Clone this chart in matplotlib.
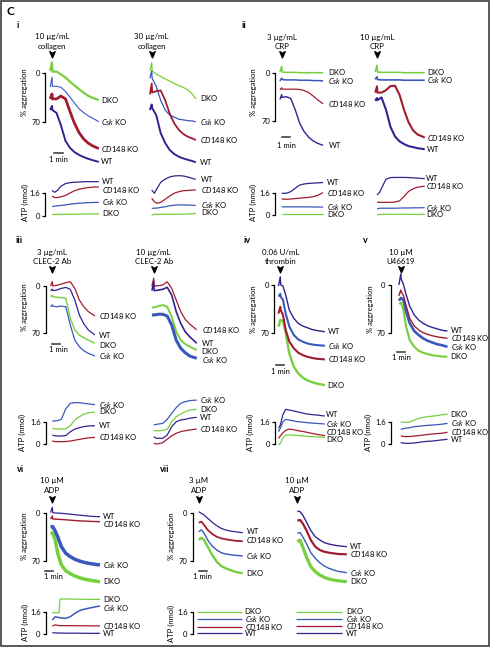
import matplotlib
matplotlib.use('Agg')
import matplotlib.pyplot as plt
from matplotlib.lines import Line2D
from matplotlib.patches import Rectangle
from matplotlib.path import Path

plt.rcParams['font.family'] = ['Lato', 'DejaVu Sans']
plt.rcParams['mathtext.fontset'] = 'custom'
plt.rcParams['mathtext.rm'] = 'Lato'
plt.rcParams['mathtext.it'] = 'Lato:italic'
plt.rcParams['mathtext.bf'] = 'Lato:bold'

# ---------------- DATA (time in min, aggregation in %, ATP in nmol) ----------------
# i: collagen 10 ug/mL
T_I10 = [-0.2, 0, 0.05, 0.5, 1, 1.5, 2, 2.5, 3, 3.5, 4, 4.5, 5.2]
I10_DKO = [-3, -15, -2, -2, 2, 6.5, 12.4, 17.8, 23, 28, 32.5, 35.5, 38.6]
I10_CSK = [20, 6, 19, 19, 20.5, 26.5, 34.5, 43, 51, 56.5, 61, 64.5, 69.5]
I10_CD148 = [37, 30, 37, 37, 33, 37, 55, 72, 85, 94, 100, 104, 108]
I10_WT = [53, 47, 53, 57, 75, 97, 107, 113, 117, 120, 122.5, 124.5, 127]
T_I10A = [0, 0.3, 0.6, 1, 1.5, 2, 2.5, 3, 3.5, 4, 4.5, 5.2]
I10A_WT = [1.8, 1.67, 1.8, 2.1, 2.28, 2.35, 2.38, 2.39, 2.41, 2.42, 2.42, 2.42]
I10A_CD148 = [1.4, 1.3, 1.3, 1.35, 1.45, 1.62, 1.78, 1.88, 1.95, 2.0, 2.03, 2.05]
I10A_CSK = [0.66, 0.7, 0.72, 0.74, 0.78, 0.83, 0.87, 0.9, 0.92, 0.94, 0.95, 0.96]
I10A_DKO = [0.1, 0.11, 0.11, 0.12, 0.12, 0.12, 0.13, 0.13, 0.14, 0.14, 0.15, 0.15]
# i: collagen 30 ug/mL
T_I30 = [-0.2, 0, 0.05, 0.5, 1, 1.5, 2, 2.5, 3, 3.5, 4, 4.5, 4.9]
I30_DKO = [-3, -15, -3, 1.5, 5, 8.5, 11.5, 15, 18, 20.5, 24, 30, 37]
I30_CSK = [7.6, -3, 7.6, 19, 39, 53, 60, 63, 66, 67, 68, 68.6, 69.5]
I30_CD148 = [30.5, 15, 28, 26, 25, 39, 58, 72, 81, 87, 91, 93.5, 95.7]
I30_WT = [53, 45, 50, 60, 86, 100, 110, 115.7, 119.5, 122, 124, 125.7, 127.6]
T_I30A = [0, 0.3, 0.6, 1, 1.5, 2, 2.5, 3, 3.5, 4, 4.5, 4.9]
I30A_WT = [1.83, 1.6, 1.95, 2.37, 2.6, 2.75, 2.82, 2.84, 2.82, 2.75, 2.65, 2.58]
I30A_CD148 = [1.25, 1.0, 0.9, 0.96, 1.18, 1.41, 1.6, 1.71, 1.78, 1.8, 1.83, 1.83]
I30A_CSK = [0.54, 0.55, 0.56, 0.6, 0.65, 0.72, 0.76, 0.78, 0.78, 0.77, 0.76, 0.74]
I30A_DKO = [0.07, 0.12, 0.12, 0.12, 0.12, 0.12, 0.12, 0.13, 0.13, 0.14, 0.16, 0.19]
# ii: CRP 3 ug/mL
T_II3 = [-0.2, 0, 0.05, 0.5, 1, 1.5, 2, 2.5, 3, 3.5, 4, 4.6]
II3_DKO = [-1, -9, -1, -0.5, -0.5, -0.5, 0, 0, 0, 0, 0, 0]
II3_CSK = [12, 8, 10, 10.5, 10.5, 10.5, 11, 11, 11, 11.5, 11.5, 12]
II3_CD148 = [25, 22, 24, 24, 24, 24, 24.5, 26, 29, 34, 39.5, 45.5]
II3_WT = [39, 32, 36, 35, 37.4, 54, 73.8, 86, 94, 99.5, 103, 106]
T_II3A = [0, 0.3, 0.6, 1, 1.5, 2, 2.5, 3, 3.5, 4, 4.6]
II3A_WT = [1.6, 1.6, 1.62, 1.72, 1.97, 2.21, 2.29, 2.33, 2.35, 2.37, 2.39]
II3A_CD148 = [1.2, 1.16, 1.16, 1.18, 1.21, 1.24, 1.27, 1.3, 1.35, 1.45, 1.65]
II3A_CSK = [0.61, 0.6, 0.6, 0.6, 0.6, 0.6, 0.6, 0.6, 0.59, 0.59, 0.58]
II3A_DKO = [0.05, 0.05, 0.05, 0.05, 0.05, 0.05, 0.05, 0.05, 0.05, 0.05, 0.05]
# ii: CRP 10 ug/mL
T_II10 = [-0.2, 0, 0.05, 0.5, 1, 1.5, 2, 2.5, 3, 3.5, 4, 4.5, 5.3]
II10_DKO = [-1, -11, -1, -0.5, -0.5, -0.5, -0.5, -0.5, 0, 0, 0, 0, 0]
II10_CSK = [9.7, 6, 10, 10.5, 10.5, 10.5, 10.5, 10.5, 11, 11, 11, 11, 11]
II10_CD148 = [29, 20, 29, 29, 25.5, 19.5, 19, 32, 54, 72, 84, 90, 94.5]
II10_WT = [41, 37, 40, 36, 54, 79, 93, 100, 104, 107, 108.5, 110, 111.5]
T_II10A = [0, 0.3, 0.6, 1, 1.5, 2, 2.5, 3, 3.5, 4, 4.5, 5.3]
II10A_WT = [1.48, 1.68, 2.1, 2.64, 2.76, 2.77, 2.77, 2.77, 2.76, 2.74, 2.72, 2.68]
II10A_CD148 = [0.94, 0.94, 0.93, 0.93, 0.94, 0.96, 1.04, 1.36, 1.73, 1.93, 2.05, 2.13]
II10A_CSK = [0.44, 0.5, 0.5, 0.5, 0.5, 0.5, 0.51, 0.52, 0.52, 0.53, 0.53, 0.54]
II10A_DKO = [0.0, 0.05, 0.05, 0.05, 0.05, 0.05, 0.05, 0.05, 0.05, 0.05, 0.05, 0.05]
# iii: CLEC-2 Ab 3 ug/mL
T_III3 = [-0.2, 0, 0.05, 0.5, 1, 1.5, 2, 2.5, 3, 3.5, 4, 4.74]
III3_CD148 = [0.4, -6, 0.4, -0.5, -2.5, -4.4, -5.9, 4, 21, 31, 38, 44.6]
III3_WT = [7.3, 5, 7.3, 6.3, 4, 2.5, 5.3, 21, 43, 56, 65, 72.5]
III3_DKO = [16, 14, 16, 17, 17.5, 18.6, 48, 65, 72.5, 76.4, 80, 84.7]
III3_CSK = [31, 28, 30, 31, 30, 31, 57.8, 80, 89.7, 95.6, 99.5, 103.4]
T_III3A = [0, 0.3, 0.6, 1, 1.5, 2, 2.5, 3, 3.5, 4, 4.74]
III3A_CSK = [1.7, 1.7, 1.72, 1.82, 2.6, 3.0, 3.05, 3.05, 3.0, 2.96, 2.9]
III3A_DKO = [1.16, 1.12, 1.11, 1.11, 1.12, 1.35, 1.77, 2.0, 2.2, 2.3, 2.36]
III3A_WT = [0.66, 0.6, 0.59, 0.59, 0.62, 0.9, 1.1, 1.2, 1.28, 1.33, 1.35]
III3A_CD148 = [0.22, 0.18, 0.17, 0.17, 0.18, 0.22, 0.28, 0.34, 0.4, 0.45, 0.49]
# iii: CLEC-2 Ab 10 ug/mL
T_III10 = [-0.2, 0, 0.05, 0.5, 1, 1.5, 2, 2.5, 3, 3.5, 4, 4.78]
III10_CD148 = [0.4, -11, 0.4, 0, -1, -5.9, 4, 21, 38, 49.5, 56.4, 65]
III10_WT = [7.3, -5, 7.3, 6.5, 5.3, 2.4, 13.7, 38, 55.4, 67.7, 75, 84.7]
III10_DKO = [32, 32, 32, 30, 28.5, 31, 45.6, 67.6, 80, 85.7, 89.7, 94.6]
III10_CSK = [43, 43, 43, 42, 42, 44.6, 57.8, 80, 92, 98.5, 103.4, 106.8]
T_III10A = [0, 0.3, 0.6, 1, 1.5, 2, 2.5, 3, 3.5, 4, 4.78]
III10A_CSK = [1.4, 1.45, 1.48, 1.52, 1.82, 2.26, 2.68, 3.0, 3.12, 3.2, 3.24]
III10A_DKO = [0.98, 0.98, 0.98, 1.0, 1.08, 1.64, 2.01, 2.21, 2.38, 2.5, 2.56]
III10A_WT = [0.54, 0.42, 0.42, 0.42, 0.66, 1.28, 1.64, 1.77, 1.82, 1.9, 1.97]
III10A_CD148 = [0.05, 0.0, 0.03, 0.1, 0.35, 0.61, 0.79, 0.91, 0.98, 1.03, 1.11]
# iv: thrombin 0.06 U/mL
T_IV = [-0.2, 0, 0.05, 0.3, 0.6, 1, 1.5, 2, 2.5, 3, 3.5, 4, 4.96]
IV_WT = [1.5, -12, 0, 1.5, 14.7, 36.8, 49, 56.4, 60.3, 62.7, 65.2, 66.7, 68.6]
IV_CSK = [17, 13, 17, 22, 42, 61, 73.5, 80, 83.3, 85.8, 87.3, 88.2, 89.2]
IV_CD148 = [42, 32, 37, 44, 66, 83, 93, 99.5, 103, 105.4, 107, 108.3, 109.3]
IV_DKO = [61, 51.5, 52, 52, 70.6, 100.5, 120, 130, 136, 140, 142.6, 144.6, 147]
T_IVA = [-0.2, 0, 0.3, 0.6, 1, 1.5, 2, 2.5, 3, 3.5, 4, 4.96]
IVA_WT = [1.16, 1.4, 2.2, 2.58, 2.53, 2.46, 2.38, 2.3, 2.23, 2.19, 2.16, 2.08]
IVA_CSK = [0.9, 1.16, 1.65, 1.83, 1.78, 1.71, 1.65, 1.62, 1.58, 1.55, 1.53, 1.48]
IVA_CD148 = [0.4, 0.58, 0.83, 1.0, 1.1, 1.05, 0.97, 0.92, 0.85, 0.78, 0.71, 0.6]
IVA_DKO = [-0.1, 0.03, 0.45, 0.65, 0.66, 0.64, 0.62, 0.58, 0.55, 0.53, 0.51, 0.48]
# v: U46619 10 uM
T_V = [-0.2, 0, 0.05, 0.3, 0.6, 1, 1.5, 2, 2.5, 3, 3.5, 4, 4.5, 5.2]
V_WT = [0, -16, -9, -1, 14, 31, 44, 51.5, 56.4, 59.8, 62.3, 64.2, 66.2, 67.6]
V_CD148 = [16, 7.4, 10, 15, 30, 49, 60, 66, 70, 72.5, 74.5, 76, 77, 78.4]
V_CSK = [23, 19.6, 19, 22, 39, 56, 67.6, 73.5, 78.4, 82, 84.3, 86.8, 88.2, 90.7]
V_DKO = [27, 27, 26, 36.8, 61, 81, 90.7, 96.6, 99.5, 101.5, 103, 104, 105, 105.4]
T_VA = [0, 0.5, 1, 1.5, 2, 2.5, 3, 3.5, 4, 4.5, 5.2]
VA_DKO = [1.65, 1.6, 1.62, 1.78, 1.91, 1.98, 2.03, 2.07, 2.11, 2.16, 2.23]
VA_CSK = [1.08, 1.16, 1.2, 1.28, 1.31, 1.35, 1.38, 1.4, 1.43, 1.46, 1.53]
VA_CD148 = [0.58, 0.53, 0.54, 0.57, 0.61, 0.65, 0.69, 0.73, 0.76, 0.78, 0.86]
VA_WT = [0.08, 0.03, 0.03, 0.05, 0.1, 0.15, 0.18, 0.2, 0.24, 0.28, 0.33]
# vi: ADP 10 uM
T_VI = [-0.2, 0, 0.05, 0.3, 0.6, 1, 1.5, 2, 2.5, 3, 3.5, 4, 4.5, 5.3]
VI_WT = [-1, -8.7, -1, -0.5, -0.3, 0, 0.6, 1.3, 2, 2.7, 3.3, 4, 4.5, 5]
VI_CD148 = [8.3, 4, 8.3, 8.5, 8.7, 9, 9.5, 10, 10.5, 11, 11.3, 11.6, 11.9, 12.2]
VI_CSK = [19.5, 19.5, 19.5, 25.3, 34, 48.6, 58.3, 63.2, 67, 69.5, 71.4, 72.9, 73.9, 75.4]
VI_DKO = [28, 29, 29, 38, 58, 75, 84, 88, 91.4, 93.8, 95.8, 97.2, 98.2, 99.7]
T_VIA = [0, 0.3, 0.75, 0.85, 1.0, 1.5, 2, 2.5, 3, 3.5, 4, 4.5, 5.3]
VIA_DKO = [1.55, 1.55, 1.55, 2.5, 2.53, 2.53, 2.53, 2.52, 2.52, 2.51, 2.5, 2.5, 2.5]
VIA_CSK = [1.02, 1.25, 1.2, 1.19, 1.18, 1.14, 1.26, 1.5, 1.69, 1.79, 1.86, 1.93, 2.03]
VIA_CD148 = [0.6, 0.67, 0.63, 0.62, 0.62, 0.62, 0.62, 0.62, 0.61, 0.61, 0.61, 0.6, 0.6]
VIA_WT = [0.12, 0.1, 0.09, 0.09, 0.09, 0.08, 0.08, 0.08, 0.08, 0.07, 0.07, 0.07, 0.07]
# vii: ADP 3 uM
T_VII3 = [0, 0.3, 0.6, 1, 1.5, 2, 2.5, 3, 3.5, 4, 4.5, 4.9]
VII3_WT = [-1.5, 1, 3.4, 8.2, 14, 18.9, 22.8, 25.2, 26.7, 27.7, 28.6, 29.1]
VII3_CD148 = [14.6, 13, 17.9, 25.2, 31, 35, 37.4, 38.8, 39.8, 40.8, 41.3, 41.7]
VII3_CSK = [27.7, 25, 30, 39.8, 48.5, 54.4, 58.3, 60.2, 61.2, 62.1, 62.6, 63.1]
VII3_DKO = [39.8, 36.5, 39.8, 49.6, 61.7, 71.4, 77.7, 81, 83.5, 86, 87.5, 88.3]
T_VII3A = [-0.2, 4.8]
VII3A_DKO = [1.6, 1.6]
VII3A_CSK = [1.09, 1.09]
VII3A_CD148 = [0.53, 0.53]
VII3A_WT = [0.05, 0.05]
# vii: ADP 10 uM
T_VII10 = [0, 0.3, 0.6, 1, 1.5, 2, 2.5, 3, 3.5, 4, 4.5, 5.5]
VII10_WT = [-2.5, -1.5, 3.4, 13.1, 26, 35, 39.8, 43.7, 45.6, 47.1, 48.1, 49.6]
VII10_CD148 = [11.7, 10.5, 15.5, 25.2, 39.8, 49.6, 54.4, 56.9, 58.3, 59.2, 60.2, 60.7]
VII10_CSK = [30, 29, 35, 44.6, 58.3, 66.5, 72.9, 77.7, 81, 83.5, 85.4, 87.5]
VII10_DKO = [42.3, 40, 49.6, 64.1, 78.7, 86, 90.8, 94.2, 96.6, 98.1, 99.1, 100.6]
T_VII10A = [-0.2, 5.0]
VII10A_DKO = [1.6, 1.6]
VII10A_CSK = [1.09, 1.09]
VII10A_CD148 = [0.58, 0.58]
VII10A_WT = [0.05, 0.05]

# ---------------- STYLE / LAYOUT ----------------
W, H = 491, 647
SX = 9.0  # px per minute
FS = 5.5
COLORS = {'DKO': '#76cf3c', 'CSK': '#3a58bb', 'CD148': '#a11c30', 'WT': '#33238f'}
NAMES = {'DKO': 'DKO', 'CSK': r'$\mathit{Csk}$ KO', 'CD148': r'$\mathit{CD148}$ KO', 'WT': 'WT'}
ORDER = ['DKO', 'CSK', 'CD148', 'WT']

fig = plt.figure(figsize=(W / 100, H / 100), dpi=100)


def fx(x):
    return x / W


def fy(y):
    return 1 - y / H


def make_axes(xa, y0, sy, kind):
    t0, t1 = -1.5, 7.0
    if kind == 'agg':
        v0, v1 = -40.0, 170.0
        top, bot = y0 + v0 * sy, y0 + v1 * sy
    else:
        v0, v1 = -0.6, 3.8
        top, bot = y0 - v1 * sy, y0 - v0 * sy
    ax = fig.add_axes([fx(xa + t0 * SX), fy(bot), (t1 - t0) * SX / W, (bot - top) / H])
    ax.set_xlim(t0, t1)
    ax.set_ylim((v1, v0) if kind == 'agg' else (v0, v1))
    ax.patch.set_visible(False)
    for s in ax.spines.values():
        s.set_visible(False)
    ax.set_xticks([])
    ax.set_yticks([])
    return ax


def add_yaxis(ax, t_spine, ticks, labels):
    sp = ax.spines['left']
    sp.set_visible(True)
    sp.set_position(('data', t_spine))
    sp.set_bounds(ticks[0], ticks[-1])
    sp.set_linewidth(0.9)
    ax.set_yticks(ticks)
    ax.set_yticklabels(labels, fontsize=FS)
    ax.tick_params(axis='y', length=2.5, width=0.9, pad=1.2, direction='out')


def draw(ax, t, series, lws, dt, offs):
    for key in ORDER:
        v = series[key]
        ax.plot(t, v, color=COLORS[key], lw=lws.get(key, 0.9), clip_on=False,
                solid_joinstyle='round', solid_capstyle='butt')
        ax.text(t[-1] + dt, v[-1] + offs.get(key, 0), NAMES[key], fontsize=FS,
                va='center', ha='left', clip_on=False)


PANELS = [
    # aggregation panels
    dict(kind='agg', xa=52, y0=73, sy=0.70, t=T_I10, spine=45, dt=0.25,
         s=dict(DKO=I10_DKO, CSK=I10_CSK, CD148=I10_CD148, WT=I10_WT),
         lw=dict(DKO=1.6, CSK=0.8, CD148=2.0, WT=1.4), off={}),
    dict(kind='agg', xa=151.7, y0=73, sy=0.70, t=T_I30, spine=None, dt=0.5,
         s=dict(DKO=I30_DKO, CSK=I30_CSK, CD148=I30_CD148, WT=I30_WT),
         lw=dict(DKO=0.9, CSK=0.9, CD148=1.3, WT=1.4), off={}),
    dict(kind='agg', xa=281.7, y0=72.7, sy=0.686, t=T_II3, spine=275, dt=0.6,
         s=dict(DKO=II3_DKO, CSK=II3_CSK, CD148=II3_CD148, WT=II3_WT),
         lw=dict(DKO=1.1, CSK=1.1, CD148=0.9, WT=1.0), off={}),
    dict(kind='agg', xa=377, y0=72.7, sy=0.686, t=T_II10, spine=None, dt=0.25,
         s=dict(DKO=II10_DKO, CSK=II10_CSK, CD148=II10_CD148, WT=II10_WT),
         lw=dict(DKO=1.1, CSK=1.2, CD148=1.5, WT=1.5), off={}),
    dict(kind='agg', xa=52.3, y0=285.7, sy=0.68, t=T_III3, spine=45.7, dt=0.45,
         s=dict(DKO=III3_DKO, CSK=III3_CSK, CD148=III3_CD148, WT=III3_WT),
         lw=dict(DKO=1.0, CSK=0.9, CD148=0.9, WT=0.9), off=dict(DKO=3.5)),
    dict(kind='agg', xa=153.7, y0=285.7, sy=0.68, t=T_III10, spine=None, dt=0.55,
         s=dict(DKO=III10_DKO, CSK=III10_CSK, CD148=III10_CD148, WT=III10_WT),
         lw=dict(DKO=1.4, CSK=2.2, CD148=0.9, WT=1.2), off=dict(DKO=2.5, CSK=2.5)),
    dict(kind='agg', xa=280.3, y0=285, sy=0.681, t=T_IV, spine=274.3, dt=0.3,
         s=dict(DKO=IV_DKO, CSK=IV_CSK, CD148=IV_CD148, WT=IV_WT),
         lw=dict(DKO=1.7, CSK=1.5, CD148=1.5, WT=1.0), off={}),
    dict(kind='agg', xa=400.7, y0=285, sy=0.681, t=T_V, spine=390.7, dt=0.35,
         s=dict(DKO=V_DKO, CSK=V_CSK, CD148=V_CD148, WT=V_WT),
         lw=dict(DKO=1.5, CSK=1.9, CD148=1.0, WT=1.0), off=dict(WT=-1.5)),
    dict(kind='agg', xa=52.3, y0=513.3, sy=0.686, t=T_VI, spine=45.7, dt=0.35,
         s=dict(DKO=VI_DKO, CSK=VI_CSK, CD148=VI_CD148, WT=VI_WT),
         lw=dict(DKO=2.5, CSK=2.5, CD148=1.0, WT=0.9), off=dict(CD148=3.4)),
    dict(kind='agg', xa=198.7, y0=512.7, sy=0.686, t=T_VII3, spine=192.7, dt=0.4,
         s=dict(DKO=VII3_DKO, CSK=VII3_CSK, CD148=VII3_CD148, WT=VII3_WT),
         lw=dict(DKO=1.7, CSK=1.0, CD148=1.3, WT=0.9), off=dict(CD148=-1.5, WT=-1.0)),
    dict(kind='agg', xa=297.3, y0=512.7, sy=0.686, t=T_VII10, spine=None, dt=0.35,
         s=dict(DKO=VII10_DKO, CSK=VII10_CSK, CD148=VII10_CD148, WT=VII10_WT),
         lw=dict(DKO=2.3, CSK=1.0, CD148=1.6, WT=1.0), off={}),
    # ATP panels
    dict(kind='atp', xa=52, y0=216, sy=14.2, t=T_I10A, spine=45, dt=0.35,
         s=dict(DKO=I10A_DKO, CSK=I10A_CSK, CD148=I10A_CD148, WT=I10A_WT),
         lw={}, off=dict(CD148=-0.21)),
    dict(kind='atp', xa=151.7, y0=216, sy=14.2, t=T_I30A, spine=None, dt=0.6,
         s=dict(DKO=I30A_DKO, CSK=I30A_CSK, CD148=I30A_CD148, WT=I30A_WT),
         lw={}, off=dict(DKO=0.05, CSK=0.05)),
    dict(kind='atp', xa=281.7, y0=215, sy=13.56, t=T_II3A, spine=275, dt=0.45,
         s=dict(DKO=II3A_DKO, CSK=II3A_CSK, CD148=II3A_CD148, WT=II3A_WT),
         lw={}, off={}),
    dict(kind='atp', xa=377, y0=215, sy=13.56, t=T_II10A, spine=None, dt=0.15,
         s=dict(DKO=II10A_DKO, CSK=II10A_CSK, CD148=II10A_CD148, WT=II10A_WT),
         lw={}, off={}),
    dict(kind='atp', xa=52.3, y0=444, sy=13.56, t=T_III3A, spine=45.7, dt=0.45,
         s=dict(DKO=III3A_DKO, CSK=III3A_CSK, CD148=III3A_CD148, WT=III3A_WT),
         lw={}, off={}),
    dict(kind='atp', xa=153.7, y0=444, sy=13.56, t=T_III10A, spine=None, dt=0.35,
         s=dict(DKO=III10A_DKO, CSK=III10A_CSK, CD148=III10A_CD148, WT=III10A_WT),
         lw={}, off={}),
    dict(kind='atp', xa=280.3, y0=443.7, sy=13.3, t=T_IVA, spine=275, dt=0.15,
         s=dict(DKO=IVA_DKO, CSK=IVA_CSK, CD148=IVA_CD148, WT=IVA_WT),
         lw={}, off=dict(WT=0.15, CD148=0.3, DKO=-0.13)),
    dict(kind='atp', xa=400.7, y0=443.7, sy=13.3, t=T_VA, spine=390.7, dt=0.35,
         s=dict(DKO=VA_DKO, CSK=VA_CSK, CD148=VA_CD148, WT=VA_WT),
         lw={}, off={}),
    dict(kind='atp', xa=52.3, y0=634.3, sy=13.96, t=T_VIA, spine=45.7, dt=0.35,
         s=dict(DKO=VIA_DKO, CSK=VIA_CSK, CD148=VIA_CD148, WT=VIA_WT),
         lw=dict(CSK=1.1), off=dict(CSK=-0.16)),
    dict(kind='atp', xa=198.7, y0=634, sy=13.75, t=T_VII3A, spine=192.7, dt=0.3,
         s=dict(DKO=VII3A_DKO, CSK=VII3A_CSK, CD148=VII3A_CD148, WT=VII3A_WT),
         lw={}, off={}),
    dict(kind='atp', xa=297.3, y0=634, sy=13.75, t=T_VII10A, spine=None, dt=0.4,
         s=dict(DKO=VII10A_DKO, CSK=VII10A_CSK, CD148=VII10A_CD148, WT=VII10A_WT),
         lw={}, off={}),
]

for p in PANELS:
    ax = make_axes(p['xa'], p['y0'], p['sy'], p['kind'])
    if p['spine'] is not None:
        ts = (p['spine'] - p['xa']) / SX
        if p['kind'] == 'agg':
            add_yaxis(ax, ts, [0, 70], ['0', '70'])
        else:
            add_yaxis(ax, ts, [0, 1.6], ['0', '1.6'])
    draw(ax, p['t'], p['s'], p['lw'], p['dt'], p['off'])

# ---------------- annotations ----------------
ARROW = Path([(0, -1), (-0.8, 0.85), (0, 0.35), (0.8, 0.85), (0, -1)],
             [Path.MOVETO, Path.LINETO, Path.LINETO, Path.LINETO, Path.CLOSEPOLY])

AGONISTS = [
    (52, 37, '10 µg/mL', 'collagen', 53.5),
    (151.7, 37, '30 µg/mL', 'collagen', 53.5),
    (281.7, 37.3, '3 µg/mL', 'CRP', 53.5),
    (377, 37.3, '10 µg/mL', 'CRP', 53.5),
    (52.3, 252, '3 µg/mL', 'CLEC-2 Ab', 269.3),
    (153.7, 252, '10 µg/mL', 'CLEC-2 Ab', 269.3),
    (280.3, 252.3, '0.06 U/mL', 'thrombin', 269.3),
    (400.7, 252.3, '10 µM', 'U46619', 269.3),
    (52.3, 481, '10 µM', 'ADP', 498.5),
    (198.7, 481, '3 µM', 'ADP', 498.7),
    (297.3, 481, '10 µM', 'ADP', 498.7),
]
for x, y1, l1, l2, ya in AGONISTS:
    fig.text(fx(x), fy(y1), l1, ha='center', va='center', fontsize=5.7)
    fig.text(fx(x), fy(y1 + 9.2), l2, ha='center', va='center', fontsize=5.7)
    fig.add_artist(Line2D([fx(x)], [fy(ya)], marker=ARROW, ms=4.8, color='black',
                          linestyle='none', transform=fig.transFigure))

SCALEBARS = [
    (54, 63, 153.3, 58.5, 159.5),
    (281.7, 290, 137.3, 286, 145),
    (51.7, 60, 344, 58.7, 350),
    (276, 284.3, 365, 280.3, 371.7),
    (396.7, 405, 351.7, 401, 357.3),
    (45, 53.3, 570.7, 53.3, 576.7),
    (198.7, 206.7, 570.7, 202.7, 576.7),
]
for x1, x2, yb, xt, yt in SCALEBARS:
    fig.add_artist(Line2D([fx(x1), fx(x2)], [fy(yb), fy(yb)], color='#333333', lw=1.1,
                          transform=fig.transFigure))
    fig.text(fx(xt), fy(yt), '1 min', ha='center', va='center', fontsize=FS)

YLABELS = [
    (25, 92, '% aggregation'), (25, 202, 'ATP (nmol)'),
    (253.3, 92, '% aggregation'), (253.3, 202, 'ATP (nmol)'),
    (25, 307, '% aggregation'), (22, 432, 'ATP (nmol)'),
    (253.3, 309, '% aggregation'), (250, 432, 'ATP (nmol)'),
    (370.7, 309, '% aggregation'), (368.3, 432, 'ATP (nmol)'),
    (25, 536, '% aggregation'), (25, 622, 'ATP (nmol)'),
    (171.7, 536, '% aggregation'), (171.7, 623, 'ATP (nmol)'),
]
for x, y, s in YLABELS:
    fig.text(fx(x), fy(y), s, rotation=90, ha='center', va='center', fontsize=FS)

PANEL_LABELS = [(18, 25, 'i'), (244, 25, 'ii'), (19, 240.7, 'iii'), (246.7, 240.7, 'iv'),
                (365, 240.7, 'v'), (21, 470, 'vi'), (165, 470, 'vii')]
for x, y, s in PANEL_LABELS:
    fig.text(fx(x), fy(y), s, ha='center', va='center', fontsize=6.5, fontweight='bold')
fig.text(fx(10), fy(11.7), 'C', ha='center', va='center', fontsize=8.5, fontweight='bold')

fig.add_artist(Rectangle((fx(1), fy(645.5)), (488.5 - 1) / W, (645.5 - 1) / H, fill=False,
                         ec='#3c3c3c', lw=1.2, transform=fig.transFigure))

fig.savefig('out.png', dpi=100)
